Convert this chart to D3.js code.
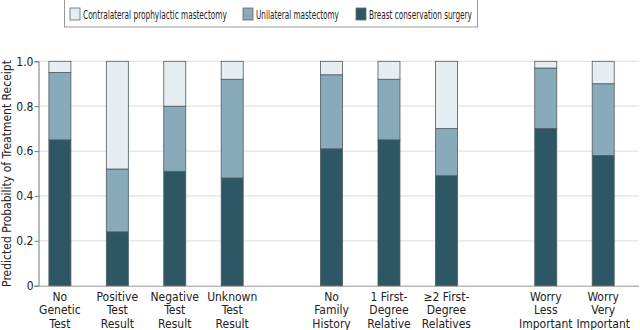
<!DOCTYPE html>
<html>
<head>
<meta charset="utf-8">
<script src="https://cdn.jsdelivr.net/npm/d3@7"></script>
<style>
  body { margin: 0; background: #fff; }
  svg text { font-family: "Liberation Sans Narrow", "DejaVu Sans Condensed", sans-serif; fill: #222; }
</style>
</head>
<body>
<div id="chart"></div>
<script>
// predicted probability of each treatment, by group
const categories = [
  ["No", "Genetic", "Test"],
  ["Positive", "Test", "Result"],
  ["Negative", "Test", "Result"],
  ["Unknown", "Test", "Result"],
  ["No", "Family", "History"],
  ["1 First-", "Degree", "Relative"],
  ["≥2 First-", "Degree", "Relatives"],
  ["Worry", "Less", "Important"],
  ["Worry", "Very", "Important"]
];
const groupOf = [0, 0, 0, 0, 1, 1, 1, 2, 2];
const bcs = [0.65, 0.24, 0.51, 0.48, 0.61, 0.65, 0.49, 0.70, 0.58];
const unilateral = [0.30, 0.28, 0.29, 0.44, 0.33, 0.27, 0.21, 0.27, 0.32];
const cpm = [0.05, 0.48, 0.20, 0.08, 0.06, 0.08, 0.30, 0.03, 0.10];
const seriesNames = ["Contralateral prophylactic mastectomy", "Unilateral mastectomy", "Breast conservation surgery"];
const yTicks = [0, 0.2, 0.4, 0.6, 0.8, 1.0];

const W = 640, H = 330;
const colors = {bcs: "#2e5765", um: "#88aabb", cpm: "#e6eef3"};

const svg = d3.select("#chart").append("svg")
  .attr("width", W).attr("height", H);

const y = d3.scaleLinear().domain([0, 1]).range([285.7, 61.3]);
// extra spacing between the three groups, in bar-slot units
const groupGap = 0.73;
const x = d3.scaleLinear().domain([0, 8 + 2 * groupGap]).range([59.9, 603.2]);
const xPos = i => x(i + groupOf[i] * groupGap);
const barW = 22;

// gridlines
svg.append("g").selectAll("line")
  .data(yTicks.filter(t => t > 0))
  .enter().append("line")
  .attr("x1", 38).attr("x2", 639)
  .attr("y1", d => y(d)).attr("y2", d => y(d))
  .attr("stroke", "#e3e3e3").attr("stroke-width", 1.2);

// y axis
const yAxis = svg.append("g")
  .attr("transform", "translate(38.5,0)")
  .call(d3.axisLeft(y).tickValues(yTicks).tickSize(4)
    .tickFormat(d => d === 0 ? "0" : d3.format(".1f")(d)));
yAxis.select(".domain").attr("stroke", "#777");
yAxis.selectAll(".tick line").attr("stroke", "#777");
yAxis.selectAll("text").attr("font-size", 12).attr("x", -5);

// baseline
svg.append("line")
  .attr("x1", 38).attr("x2", 639)
  .attr("y1", y(0) + 0.5).attr("y2", y(0) + 0.5)
  .attr("stroke", "#999");

svg.append("text")
  .attr("transform", `translate(11,${(y(0) + y(1)) / 2}) rotate(-90)`)
  .attr("text-anchor", "middle")
  .attr("font-size", 12)
  .text("Predicted Probability of Treatment Receipt");

// stacked bars
const stacks = bcs.map((b, i) => [
  {key: "bcs", y0: 0, y1: b},
  {key: "um", y0: b, y1: b + unilateral[i]},
  {key: "cpm", y0: b + unilateral[i], y1: b + unilateral[i] + cpm[i]}
]);

const bars = svg.append("g").selectAll("g")
  .data(stacks)
  .enter().append("g")
  .attr("transform", (d, i) => `translate(${xPos(i) - barW / 2},0)`);

bars.selectAll("rect")
  .data(d => d)
  .enter().append("rect")
  .attr("x", 0)
  .attr("width", barW)
  .attr("y", d => y(d.y1))
  .attr("height", d => y(d.y0) - y(d.y1))
  .attr("fill", d => colors[d.key])
  .attr("stroke", "#4d5a60")
  .attr("stroke-width", 0.8);

// category labels
const labels = svg.append("g").selectAll("text")
  .data(categories)
  .enter().append("text")
  .attr("x", (d, i) => xPos(i))
  .attr("y", 301)
  .attr("text-anchor", "middle")
  .attr("font-size", 12);
labels.selectAll("tspan")
  .data(d => d)
  .enter().append("tspan")
  .attr("x", function() { return this.parentNode.getAttribute("x"); })
  .attr("dy", (d, j) => j === 0 ? 0 : 13.3)
  .text(d => d);

// legend
const legend = svg.append("g");
legend.append("rect")
  .attr("x", 64.5).attr("y", -1).attr("width", 413).attr("height", 28)
  .attr("fill", "#fff").attr("stroke", "#999");
const legendItems = [
  {name: seriesNames[0], key: "cpm", x: 70, w: 144},
  {name: seriesNames[1], key: "um", x: 243, w: 83},
  {name: seriesNames[2], key: "bcs", x: 356, w: 103}
];
const li = legend.selectAll("g.item")
  .data(legendItems)
  .enter().append("g")
  .attr("transform", d => `translate(${d.x},8)`);
li.append("rect")
  .attr("width", 10).attr("height", 12)
  .attr("fill", d => colors[d.key])
  .attr("stroke", "#666").attr("stroke-width", 0.8);
// squeeze each label horizontally so it fits its slot
li.append("text")
  .attr("font-size", 12)
  .text(d => d.name)
  .attr("transform", function(d) {
    const s = Math.min(1, d.w / this.getComputedTextLength());
    return `translate(13,10.5) scale(${s},1)`;
  });
</script>
</body>
</html>
